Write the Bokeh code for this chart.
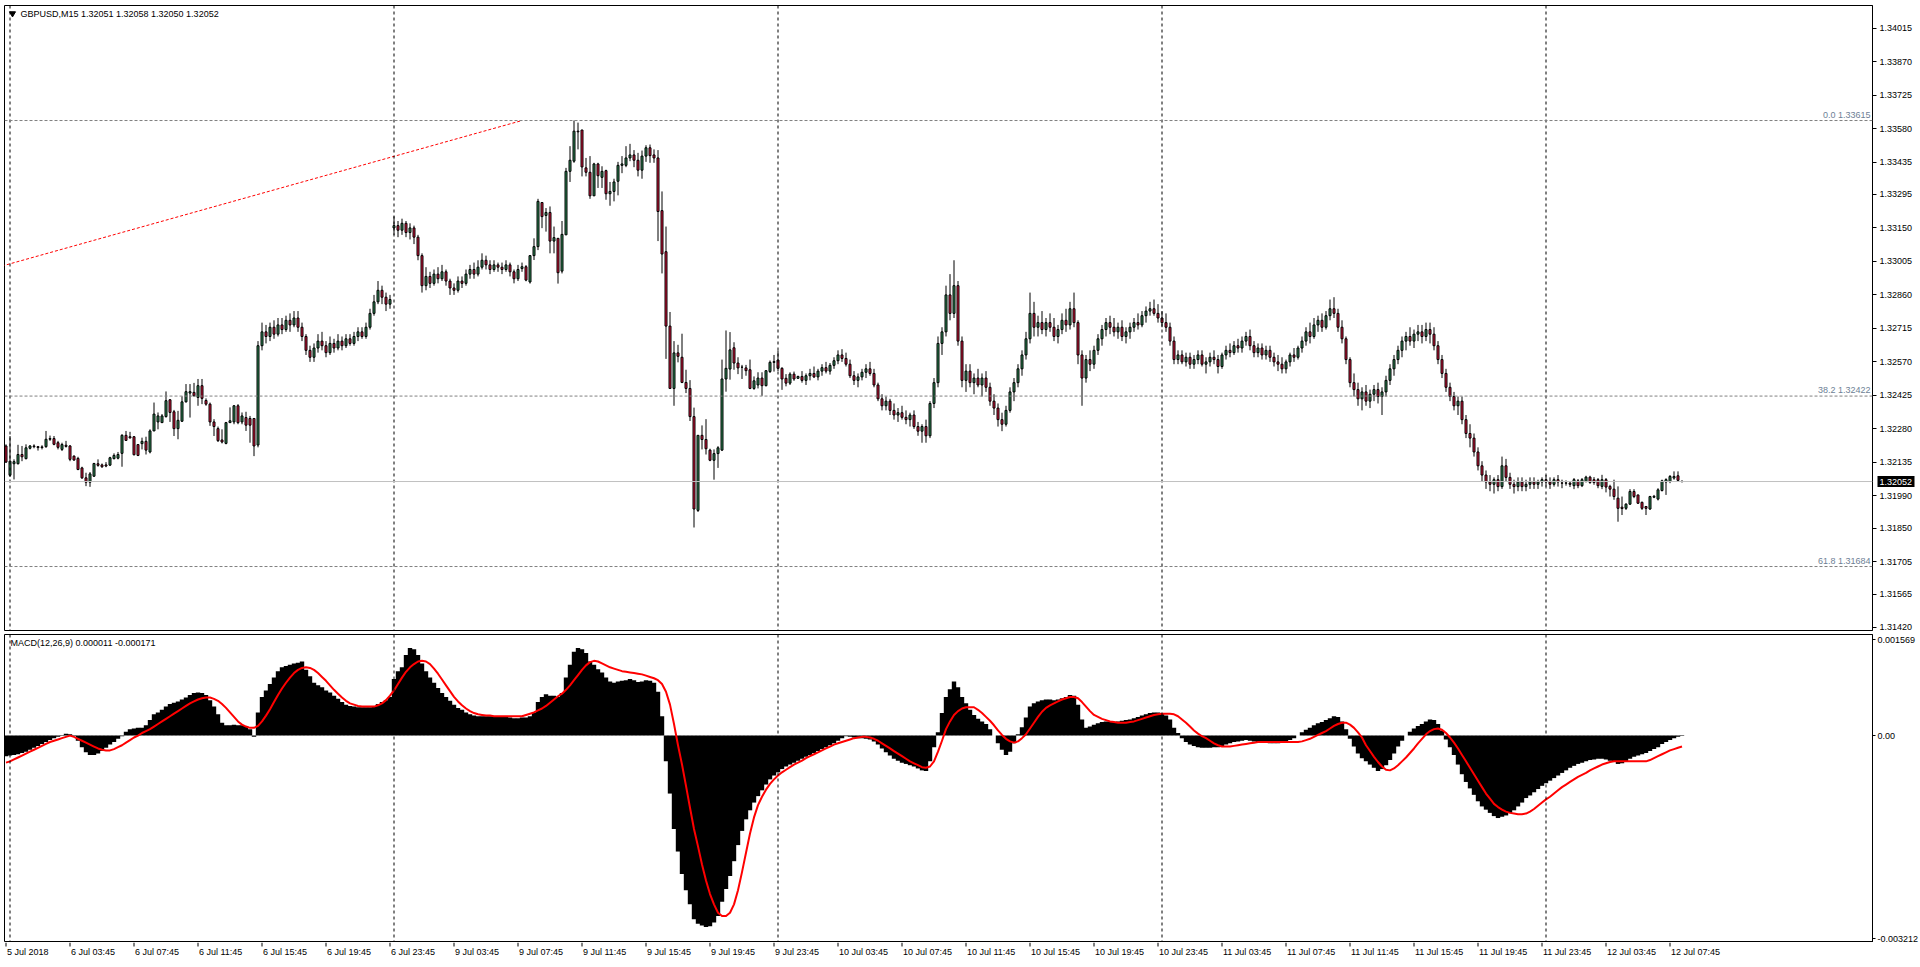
from bokeh.plotting import figure
from bokeh.models import Range1d, FixedTicker, PrintfTickFormatter, Span, Label, ColumnDataSource
from bokeh.layouts import column
from bokeh.embed import file_html
from bokeh.resources import INLINE
from bokeh.core.properties import value

# ---------------- data (GBPUSD M15, bars from 5 Jul 23:45 to 12 Jul 08:30) ----------------
opens = [
    1.32206, 1.32079, 1.32129, 1.32129, 1.32169, 1.32151, 1.32196, 1.32206, 1.32203, 1.32199,
    1.32203, 1.32235, 1.32238, 1.32220, 1.32191, 1.32209, 1.32206, 1.32162, 1.32152, 1.32111,
    1.32068, 1.32049, 1.32075, 1.32129, 1.32124, 1.32124, 1.32123, 1.32151, 1.32153, 1.32174,
    1.32252, 1.32246, 1.32246, 1.32212, 1.32216, 1.32226, 1.32180, 1.32271, 1.32310, 1.32307,
    1.32333, 1.32406, 1.32354, 1.32281, 1.32313, 1.32397, 1.32435, 1.32438, 1.32416, 1.32467,
    1.32403, 1.32387, 1.32310, 1.32281, 1.32232, 1.32217, 1.32307, 1.32310, 1.32380, 1.32310,
    1.32329, 1.32325, 1.32325, 1.32210, 1.32640, 1.32700, 1.32680, 1.32720, 1.32690, 1.32730,
    1.32710, 1.32750, 1.32730, 1.32760, 1.32720, 1.32680, 1.32620, 1.32590, 1.32630, 1.32660,
    1.32640, 1.32610, 1.32650, 1.32630, 1.32660, 1.32640, 1.32670, 1.32650, 1.32680, 1.32700,
    1.32680, 1.32720, 1.32780, 1.32830, 1.32880, 1.32850, 1.32820, 1.33150, 1.33160, 1.33140,
    1.33170, 1.33130, 1.33150, 1.33110, 1.33030, 1.32900, 1.32940, 1.32910, 1.32950, 1.32930,
    1.32960, 1.32920, 1.32890, 1.32880, 1.32920, 1.32910, 1.32950, 1.32970, 1.32950, 1.32980,
    1.33010, 1.32990, 1.32970, 1.32990, 1.32980, 1.32970, 1.32990, 1.32960, 1.32930, 1.32974,
    1.32982, 1.32916, 1.33030, 1.33069, 1.33260, 1.33204, 1.33217, 1.33093, 1.33105, 1.32963,
    1.33120, 1.33395, 1.33439, 1.33569, 1.33574, 1.33410, 1.33391, 1.33289, 1.33427, 1.33369,
    1.33398, 1.33298, 1.33308, 1.33352, 1.33421, 1.33421, 1.33453, 1.33466, 1.33443, 1.33400,
    1.33461, 1.33497, 1.33466, 1.33453, 1.33225, 1.33047, 1.32725, 1.32455, 1.32609, 1.32590,
    1.32481, 1.32455, 1.32333, 1.31927, 1.32252, 1.32234, 1.32188, 1.32144, 1.32173, 1.32188,
    1.32496, 1.32539, 1.32631, 1.32565, 1.32547, 1.32544, 1.32536, 1.32455, 1.32470, 1.32500,
    1.32467, 1.32528, 1.32568, 1.32578, 1.32542, 1.32499, 1.32478, 1.32517, 1.32499, 1.32507,
    1.32490, 1.32510, 1.32520, 1.32505, 1.32530, 1.32545, 1.32530, 1.32555, 1.32575, 1.32600,
    1.32585, 1.32560, 1.32510, 1.32490, 1.32505, 1.32525, 1.32540, 1.32520, 1.32470, 1.32410,
    1.32380, 1.32400, 1.32360, 1.32340, 1.32350, 1.32330, 1.32320, 1.32340, 1.32290, 1.32270,
    1.32290, 1.32250, 1.32390, 1.32480, 1.32650, 1.32700, 1.32860, 1.32780, 1.32900, 1.32660,
    1.32490, 1.32530, 1.32480, 1.32500, 1.32470, 1.32500, 1.32460, 1.32400, 1.32370, 1.32320,
    1.32300, 1.32360, 1.32440, 1.32480, 1.32540, 1.32600, 1.32670, 1.32780, 1.32720, 1.32740,
    1.32710, 1.32740, 1.32720, 1.32680, 1.32710, 1.32750, 1.32730, 1.32800, 1.32740, 1.32600,
    1.32500, 1.32580, 1.32560, 1.32620, 1.32670, 1.32710, 1.32740, 1.32720, 1.32700, 1.32720,
    1.32680, 1.32700, 1.32720, 1.32740, 1.32730, 1.32770, 1.32790, 1.32800, 1.32780, 1.32760,
    1.32740, 1.32720, 1.32660, 1.32580, 1.32600, 1.32570, 1.32590, 1.32560, 1.32580, 1.32600,
    1.32560, 1.32570, 1.32590, 1.32580, 1.32550, 1.32600, 1.32620, 1.32610, 1.32640, 1.32630,
    1.32660, 1.32680, 1.32640, 1.32610, 1.32630, 1.32600, 1.32620, 1.32590, 1.32570, 1.32560,
    1.32540, 1.32570, 1.32600, 1.32590, 1.32630, 1.32660, 1.32700, 1.32680, 1.32730, 1.32750,
    1.32720, 1.32770, 1.32800, 1.32780, 1.32720, 1.32670, 1.32580, 1.32480, 1.32450, 1.32410,
    1.32440, 1.32400, 1.32430, 1.32450, 1.32420, 1.32440, 1.32490, 1.32540, 1.32580, 1.32620,
    1.32660, 1.32680, 1.32660, 1.32690, 1.32700, 1.32680, 1.32710, 1.32690, 1.32640, 1.32580,
    1.32520, 1.32460, 1.32420, 1.32380, 1.32400, 1.32320, 1.32260, 1.32240, 1.32180, 1.32120,
    1.32080, 1.32050, 1.32040, 1.32060, 1.32030, 1.32120, 1.32070, 1.32040, 1.32030, 1.32050,
    1.32030, 1.32040, 1.32050, 1.32040, 1.32050, 1.32060, 1.32050, 1.32040, 1.32060, 1.32046,
    1.32045, 1.32045, 1.32034, 1.32055, 1.32034, 1.32052, 1.32071, 1.32060, 1.32060, 1.32031,
    1.32060, 1.32031, 1.32019, 1.31980, 1.31941, 1.31936, 1.31954, 1.32009, 1.31994, 1.31962,
    1.31944, 1.31933, 1.31984, 1.31976, 1.32013, 1.32050, 1.32052, 1.32067, 1.32077, 1.32051,
]
highs = [
    1.32213, 1.32249, 1.32148, 1.32211, 1.32206, 1.32213, 1.32210, 1.32213, 1.32206, 1.32209,
    1.32271, 1.32251, 1.32249, 1.32228, 1.32220, 1.32228, 1.32210, 1.32165, 1.32159, 1.32116,
    1.32090, 1.32093, 1.32133, 1.32148, 1.32130, 1.32136, 1.32159, 1.32174, 1.32180, 1.32257,
    1.32271, 1.32267, 1.32249, 1.32214, 1.32242, 1.32246, 1.32278, 1.32394, 1.32351, 1.32344,
    1.32442, 1.32409, 1.32362, 1.32358, 1.32421, 1.32474, 1.32474, 1.32479, 1.32496, 1.32496,
    1.32412, 1.32394, 1.32322, 1.32290, 1.32278, 1.32310, 1.32373, 1.32383, 1.32387, 1.32351,
    1.32354, 1.32336, 1.32325, 1.32660, 1.32740, 1.32730, 1.32740, 1.32750, 1.32760, 1.32760,
    1.32770, 1.32780, 1.32790, 1.32790, 1.32740, 1.32690, 1.32640, 1.32650, 1.32690, 1.32700,
    1.32660, 1.32680, 1.32670, 1.32690, 1.32680, 1.32690, 1.32690, 1.32700, 1.32720, 1.32720,
    1.32740, 1.32800, 1.32860, 1.32920, 1.32900, 1.32870, 1.32860, 1.33200, 1.33180, 1.33190,
    1.33180, 1.33170, 1.33160, 1.33120, 1.33040, 1.32980, 1.32960, 1.32970, 1.32980, 1.32990,
    1.32970, 1.32930, 1.32910, 1.32940, 1.32940, 1.32970, 1.32990, 1.33000, 1.33010, 1.33040,
    1.33030, 1.33010, 1.33010, 1.33000, 1.33000, 1.33010, 1.33000, 1.32970, 1.32990, 1.33000,
    1.32989, 1.33032, 1.33105, 1.33276, 1.33260, 1.33236, 1.33243, 1.33156, 1.33105, 1.33180,
    1.33410, 1.33504, 1.33615, 1.33606, 1.33574, 1.33453, 1.33461, 1.33432, 1.33432, 1.33417,
    1.33402, 1.33349, 1.33363, 1.33436, 1.33461, 1.33504, 1.33514, 1.33487, 1.33475, 1.33485,
    1.33508, 1.33511, 1.33490, 1.33487, 1.33308, 1.33156, 1.32786, 1.32660, 1.32644, 1.32692,
    1.32536, 1.32491, 1.32372, 1.32252, 1.32295, 1.32322, 1.32194, 1.32191, 1.32205, 1.32580,
    1.32706, 1.32699, 1.32655, 1.32590, 1.32557, 1.32557, 1.32580, 1.32507, 1.32525, 1.32525,
    1.32532, 1.32576, 1.32600, 1.32619, 1.32547, 1.32517, 1.32525, 1.32528, 1.32510, 1.32530,
    1.32520, 1.32540, 1.32550, 1.32540, 1.32560, 1.32570, 1.32565, 1.32590, 1.32620, 1.32625,
    1.32610, 1.32580, 1.32530, 1.32520, 1.32540, 1.32560, 1.32570, 1.32540, 1.32480, 1.32430,
    1.32420, 1.32410, 1.32390, 1.32370, 1.32380, 1.32360, 1.32350, 1.32360, 1.32310, 1.32300,
    1.32320, 1.32400, 1.32500, 1.32680, 1.32720, 1.32900, 1.32950, 1.33010, 1.32920, 1.32680,
    1.32560, 1.32560, 1.32520, 1.32540, 1.32520, 1.32530, 1.32480, 1.32430, 1.32390, 1.32350,
    1.32380, 1.32460, 1.32500, 1.32560, 1.32620, 1.32700, 1.32870, 1.32830, 1.32770, 1.32790,
    1.32760, 1.32780, 1.32760, 1.32730, 1.32780, 1.32800, 1.32830, 1.32870, 1.32750, 1.32620,
    1.32600, 1.32620, 1.32640, 1.32690, 1.32730, 1.32760, 1.32770, 1.32760, 1.32740, 1.32750,
    1.32720, 1.32740, 1.32760, 1.32780, 1.32790, 1.32810, 1.32830, 1.32840, 1.32820, 1.32790,
    1.32780, 1.32740, 1.32680, 1.32620, 1.32620, 1.32610, 1.32610, 1.32600, 1.32620, 1.32620,
    1.32590, 1.32610, 1.32620, 1.32600, 1.32610, 1.32640, 1.32650, 1.32660, 1.32670, 1.32680,
    1.32700, 1.32710, 1.32660, 1.32650, 1.32650, 1.32640, 1.32640, 1.32610, 1.32600, 1.32590,
    1.32580, 1.32610, 1.32630, 1.32640, 1.32680, 1.32720, 1.32740, 1.32760, 1.32770, 1.32780,
    1.32790, 1.32840, 1.32850, 1.32800, 1.32750, 1.32680, 1.32590, 1.32520, 1.32480, 1.32460,
    1.32470, 1.32450, 1.32470, 1.32480, 1.32460, 1.32510, 1.32560, 1.32600, 1.32640, 1.32680,
    1.32700, 1.32720, 1.32710, 1.32730, 1.32730, 1.32740, 1.32740, 1.32720, 1.32660, 1.32600,
    1.32540, 1.32480, 1.32440, 1.32420, 1.32420, 1.32340, 1.32300, 1.32260, 1.32200, 1.32140,
    1.32100, 1.32080, 1.32070, 1.32080, 1.32160, 1.32150, 1.32090, 1.32060, 1.32070, 1.32070,
    1.32060, 1.32070, 1.32070, 1.32060, 1.32070, 1.32080, 1.32070, 1.32070, 1.32080, 1.32060,
    1.32057, 1.32052, 1.32067, 1.32063, 1.32067, 1.32077, 1.32077, 1.32071, 1.32067, 1.32081,
    1.32067, 1.32038, 1.32060, 1.32031, 1.31987, 1.31958, 1.32019, 1.32019, 1.31994, 1.31965,
    1.31946, 1.31990, 1.31994, 1.32023, 1.32060, 1.32066, 1.32080, 1.32096, 1.32096, 1.32058,
]
lows = [
    1.32133, 1.32072, 1.32061, 1.32126, 1.32140, 1.32148, 1.32191, 1.32196, 1.32186, 1.32191,
    1.32198, 1.32228, 1.32209, 1.32191, 1.32184, 1.32199, 1.32140, 1.32142, 1.32101, 1.32063,
    1.32032, 1.32029, 1.32072, 1.32116, 1.32111, 1.32114, 1.32119, 1.32148, 1.32148, 1.32116,
    1.32228, 1.32238, 1.32165, 1.32162, 1.32191, 1.32169, 1.32174, 1.32271, 1.32278, 1.32307,
    1.32329, 1.32310, 1.32249, 1.32235, 1.32310, 1.32394, 1.32329, 1.32421, 1.32380, 1.32387,
    1.32380, 1.32293, 1.32249, 1.32223, 1.32217, 1.32213, 1.32307, 1.32300, 1.32300, 1.32300,
    1.32271, 1.32220, 1.32162, 1.32200, 1.32620, 1.32650, 1.32660, 1.32670, 1.32680, 1.32690,
    1.32700, 1.32700, 1.32720, 1.32700, 1.32660, 1.32600, 1.32570, 1.32570, 1.32610, 1.32620,
    1.32590, 1.32600, 1.32610, 1.32620, 1.32620, 1.32630, 1.32640, 1.32640, 1.32660, 1.32670,
    1.32670, 1.32710, 1.32770, 1.32820, 1.32820, 1.32790, 1.32800, 1.33120, 1.33110, 1.33120,
    1.33110, 1.33100, 1.33080, 1.33010, 1.32870, 1.32880, 1.32890, 1.32900, 1.32910, 1.32920,
    1.32900, 1.32860, 1.32860, 1.32870, 1.32890, 1.32900, 1.32930, 1.32930, 1.32940, 1.32970,
    1.32970, 1.32950, 1.32960, 1.32960, 1.32950, 1.32960, 1.32940, 1.32910, 1.32920, 1.32960,
    1.32919, 1.32909, 1.33011, 1.33054, 1.33149, 1.33134, 1.33040, 1.33040, 1.32909, 1.32953,
    1.33120, 1.33349, 1.33432, 1.33490, 1.33373, 1.33373, 1.33276, 1.33289, 1.33323, 1.33323,
    1.33272, 1.33246, 1.33265, 1.33291, 1.33387, 1.33413, 1.33439, 1.33413, 1.33373, 1.33363,
    1.33436, 1.33432, 1.33432, 1.33093, 1.32953, 1.32583, 1.32455, 1.32380, 1.32568, 1.32478,
    1.32435, 1.32314, 1.31853, 1.31920, 1.32191, 1.32169, 1.32140, 1.32060, 1.32111, 1.32184,
    1.32441, 1.32493, 1.32536, 1.32517, 1.32496, 1.32510, 1.32452, 1.32449, 1.32455, 1.32423,
    1.32464, 1.32522, 1.32528, 1.32530, 1.32449, 1.32464, 1.32470, 1.32488, 1.32496, 1.32480,
    1.32470, 1.32490, 1.32500, 1.32490, 1.32510, 1.32520, 1.32515, 1.32540, 1.32560, 1.32570,
    1.32550, 1.32500, 1.32470, 1.32460, 1.32490, 1.32500, 1.32510, 1.32460, 1.32400, 1.32360,
    1.32360, 1.32340, 1.32320, 1.32310, 1.32320, 1.32300, 1.32290, 1.32280, 1.32250, 1.32220,
    1.32220, 1.32240, 1.32370, 1.32460, 1.32600, 1.32680, 1.32750, 1.32760, 1.32640, 1.32460,
    1.32440, 1.32460, 1.32430, 1.32460, 1.32420, 1.32440, 1.32380, 1.32340, 1.32290, 1.32270,
    1.32290, 1.32350, 1.32400, 1.32460, 1.32510, 1.32580, 1.32650, 1.32680, 1.32680, 1.32690,
    1.32680, 1.32700, 1.32660, 1.32650, 1.32690, 1.32700, 1.32710, 1.32720, 1.32560, 1.32380,
    1.32480, 1.32530, 1.32540, 1.32600, 1.32640, 1.32680, 1.32690, 1.32680, 1.32670, 1.32660,
    1.32650, 1.32670, 1.32700, 1.32710, 1.32720, 1.32740, 1.32770, 1.32770, 1.32740, 1.32720,
    1.32700, 1.32640, 1.32560, 1.32560, 1.32560, 1.32550, 1.32540, 1.32540, 1.32560, 1.32550,
    1.32520, 1.32550, 1.32560, 1.32520, 1.32540, 1.32580, 1.32590, 1.32600, 1.32610, 1.32610,
    1.32640, 1.32620, 1.32590, 1.32590, 1.32580, 1.32580, 1.32570, 1.32550, 1.32530, 1.32520,
    1.32520, 1.32550, 1.32570, 1.32580, 1.32610, 1.32640, 1.32650, 1.32670, 1.32700, 1.32700,
    1.32710, 1.32750, 1.32760, 1.32700, 1.32650, 1.32560, 1.32460, 1.32420, 1.32380, 1.32360,
    1.32380, 1.32370, 1.32400, 1.32390, 1.32340, 1.32420, 1.32470, 1.32510, 1.32560, 1.32590,
    1.32620, 1.32640, 1.32630, 1.32660, 1.32650, 1.32660, 1.32650, 1.32620, 1.32560, 1.32500,
    1.32440, 1.32400, 1.32360, 1.32340, 1.32300, 1.32240, 1.32200, 1.32160, 1.32100, 1.32050,
    1.32020, 1.32010, 1.32000, 1.32010, 1.32020, 1.32050, 1.32020, 1.32000, 1.32010, 1.32010,
    1.32010, 1.32020, 1.32020, 1.32020, 1.32030, 1.32030, 1.32020, 1.32030, 1.32030, 1.32023,
    1.32034, 1.32028, 1.32019, 1.32023, 1.32028, 1.32048, 1.32042, 1.32038, 1.32023, 1.32019,
    1.32005, 1.31987, 1.31973, 1.31878, 1.31907, 1.31929, 1.31951, 1.31980, 1.31955, 1.31929,
    1.31907, 1.31929, 1.31980, 1.31970, 1.32009, 1.31994, 1.32045, 1.32060, 1.32052, 1.32050,
]
closes = [
    1.32136, 1.32140, 1.32138, 1.32169, 1.32159, 1.32198, 1.32206, 1.32203, 1.32199, 1.32202,
    1.32235, 1.32238, 1.32213, 1.32200, 1.32212, 1.32204, 1.32148, 1.32145, 1.32104, 1.32068,
    1.32049, 1.32085, 1.32130, 1.32122, 1.32116, 1.32119, 1.32155, 1.32165, 1.32169, 1.32252,
    1.32230, 1.32241, 1.32168, 1.32165, 1.32226, 1.32188, 1.32271, 1.32344, 1.32336, 1.32336,
    1.32402, 1.32351, 1.32281, 1.32317, 1.32397, 1.32441, 1.32441, 1.32423, 1.32467, 1.32412,
    1.32387, 1.32310, 1.32290, 1.32229, 1.32223, 1.32307, 1.32315, 1.32380, 1.32307, 1.32336,
    1.32296, 1.32296, 1.32206, 1.32640, 1.32700, 1.32680, 1.32720, 1.32690, 1.32730, 1.32710,
    1.32750, 1.32730, 1.32760, 1.32720, 1.32680, 1.32620, 1.32590, 1.32630, 1.32660, 1.32640,
    1.32610, 1.32650, 1.32630, 1.32660, 1.32640, 1.32670, 1.32650, 1.32680, 1.32700, 1.32680,
    1.32720, 1.32780, 1.32830, 1.32880, 1.32850, 1.32820, 1.32840, 1.33160, 1.33140, 1.33170,
    1.33130, 1.33150, 1.33110, 1.33030, 1.32900, 1.32940, 1.32910, 1.32950, 1.32930, 1.32960,
    1.32920, 1.32890, 1.32880, 1.32920, 1.32910, 1.32950, 1.32970, 1.32950, 1.32980, 1.33010,
    1.32990, 1.32970, 1.32990, 1.32980, 1.32970, 1.32990, 1.32960, 1.32930, 1.32970, 1.32982,
    1.32924, 1.33030, 1.33069, 1.33265, 1.33199, 1.33217, 1.33093, 1.33108, 1.32956, 1.33122,
    1.33395, 1.33443, 1.33569, 1.33566, 1.33414, 1.33391, 1.33289, 1.33427, 1.33376, 1.33395,
    1.33298, 1.33308, 1.33349, 1.33421, 1.33427, 1.33453, 1.33466, 1.33443, 1.33400, 1.33461,
    1.33497, 1.33463, 1.33453, 1.33221, 1.33037, 1.32725, 1.32455, 1.32609, 1.32594, 1.32481,
    1.32455, 1.32333, 1.31933, 1.32252, 1.32234, 1.32194, 1.32144, 1.32173, 1.32198, 1.32496,
    1.32542, 1.32622, 1.32565, 1.32544, 1.32547, 1.32532, 1.32455, 1.32488, 1.32500, 1.32467,
    1.32532, 1.32568, 1.32571, 1.32542, 1.32496, 1.32478, 1.32517, 1.32496, 1.32507, 1.32490,
    1.32510, 1.32520, 1.32505, 1.32530, 1.32545, 1.32530, 1.32555, 1.32575, 1.32600, 1.32585,
    1.32560, 1.32510, 1.32490, 1.32505, 1.32525, 1.32540, 1.32520, 1.32470, 1.32410, 1.32380,
    1.32400, 1.32360, 1.32340, 1.32350, 1.32330, 1.32320, 1.32340, 1.32290, 1.32270, 1.32290,
    1.32250, 1.32390, 1.32480, 1.32650, 1.32700, 1.32860, 1.32780, 1.32900, 1.32660, 1.32490,
    1.32530, 1.32480, 1.32500, 1.32470, 1.32500, 1.32460, 1.32400, 1.32370, 1.32320, 1.32300,
    1.32360, 1.32440, 1.32480, 1.32540, 1.32600, 1.32670, 1.32780, 1.32720, 1.32740, 1.32710,
    1.32740, 1.32720, 1.32680, 1.32710, 1.32750, 1.32730, 1.32800, 1.32740, 1.32600, 1.32500,
    1.32580, 1.32560, 1.32620, 1.32670, 1.32710, 1.32740, 1.32720, 1.32700, 1.32720, 1.32680,
    1.32700, 1.32720, 1.32740, 1.32730, 1.32770, 1.32790, 1.32800, 1.32780, 1.32760, 1.32740,
    1.32720, 1.32660, 1.32580, 1.32600, 1.32570, 1.32590, 1.32560, 1.32580, 1.32600, 1.32560,
    1.32570, 1.32590, 1.32580, 1.32550, 1.32600, 1.32620, 1.32610, 1.32640, 1.32630, 1.32660,
    1.32680, 1.32640, 1.32610, 1.32630, 1.32600, 1.32620, 1.32590, 1.32570, 1.32560, 1.32540,
    1.32570, 1.32600, 1.32590, 1.32630, 1.32660, 1.32700, 1.32680, 1.32730, 1.32750, 1.32720,
    1.32770, 1.32800, 1.32780, 1.32720, 1.32670, 1.32580, 1.32480, 1.32450, 1.32410, 1.32440,
    1.32400, 1.32430, 1.32450, 1.32420, 1.32440, 1.32490, 1.32540, 1.32580, 1.32620, 1.32660,
    1.32680, 1.32660, 1.32690, 1.32700, 1.32680, 1.32710, 1.32690, 1.32640, 1.32580, 1.32520,
    1.32460, 1.32420, 1.32380, 1.32400, 1.32320, 1.32260, 1.32240, 1.32180, 1.32120, 1.32080,
    1.32050, 1.32040, 1.32060, 1.32030, 1.32120, 1.32070, 1.32040, 1.32030, 1.32050, 1.32030,
    1.32040, 1.32050, 1.32040, 1.32050, 1.32060, 1.32050, 1.32040, 1.32060, 1.32050, 1.32045,
    1.32046, 1.32040, 1.32060, 1.32034, 1.32060, 1.32071, 1.32048, 1.32048, 1.32034, 1.32060,
    1.32028, 1.32019, 1.31987, 1.31936, 1.31935, 1.31954, 1.32009, 1.31987, 1.31958, 1.31936,
    1.31936, 1.31987, 1.31988, 1.32016, 1.32055, 1.32060, 1.32074, 1.32074, 1.32057, 1.32052,
]

# MACD(12,26,9): main line (histogram) and signal line
macd_main = [
    -0.00032, -0.00031, -0.00030, -0.00029, -0.00027, -0.00025, -0.00022, -0.00019, -0.00016, -0.00013,
    -0.00010, -0.00007, -0.00004, -0.00002, 0.00001, 0.00003, 0.00002, 0.00001, -0.00008, -0.00018,
    -0.00026, -0.00030, -0.00030, -0.00028, -0.00024, -0.00019, -0.00014, -0.00010, -0.00005, -0.00001,
    0.00006, 0.00010, 0.00011, 0.00012, 0.00012, 0.00016, 0.00024, 0.00033, 0.00036, 0.00040,
    0.00045, 0.00049, 0.00051, 0.00053, 0.00056, 0.00059, 0.00063, 0.00066, 0.00067, 0.00066,
    0.00063, 0.00055, 0.00045, 0.00033, 0.00020, 0.00016, 0.00016, 0.00017, 0.00016, 0.00016,
    0.00015, 0.00010, -0.00002, 0.00036, 0.00060, 0.00070, 0.00080, 0.00090, 0.00100, 0.00106,
    0.00108, 0.00110, 0.00112, 0.00113, 0.00115, 0.00102, 0.00092, 0.00082, 0.00078, 0.00075,
    0.00070, 0.00067, 0.00062, 0.00057, 0.00052, 0.00048, 0.00046, 0.00045, 0.00044, 0.00044,
    0.00044, 0.00044, 0.00046, 0.00049, 0.00052, 0.00055, 0.00060, 0.00088, 0.00100, 0.00106,
    0.00125, 0.00136, 0.00134, 0.00125, 0.00112, 0.00100, 0.00090, 0.00082, 0.00074, 0.00066,
    0.00060, 0.00054, 0.00048, 0.00043, 0.00040, 0.00036, 0.00033, 0.00031, 0.00030, 0.00030,
    0.00030, 0.00030, 0.00030, 0.00029, 0.00029, 0.00029, 0.00028, 0.00027, 0.00027, 0.00028,
    0.00028, 0.00030, 0.00036, 0.00052, 0.00060, 0.00064, 0.00062, 0.00062, 0.00060, 0.00066,
    0.00090, 0.00110, 0.00130, 0.00136, 0.00134, 0.00128, 0.00115, 0.00110, 0.00103, 0.00098,
    0.00090, 0.00084, 0.00082, 0.00084, 0.00085, 0.00086, 0.00088, 0.00086, 0.00083, 0.00084,
    0.00086, 0.00085, 0.00082, 0.00068, 0.00030, -0.00040, -0.00090, -0.00145, -0.00180, -0.00215,
    -0.00240, -0.00262, -0.00285, -0.00292, -0.00295, -0.00297, -0.00296, -0.00290, -0.00280, -0.00258,
    -0.00238, -0.00218, -0.00195, -0.00170, -0.00148, -0.00130, -0.00116, -0.00104, -0.00094, -0.00085,
    -0.00076, -0.00068, -0.00062, -0.00057, -0.00052, -0.00048, -0.00045, -0.00042, -0.00039, -0.00036,
    -0.00033, -0.00030, -0.00027, -0.00024, -0.00021, -0.00018, -0.00015, -0.00012, -0.00008, -0.00004,
    -0.00001, -0.00002, -0.00003, -0.00004, -0.00004, -0.00005, -0.00006, -0.00009, -0.00014, -0.00020,
    -0.00026, -0.00031, -0.00036, -0.00039, -0.00042, -0.00044, -0.00046, -0.00048, -0.00051, -0.00054,
    -0.00055, -0.00040, -0.00018, 0.00005, 0.00035, 0.00060, 0.00072, 0.00084, 0.00075, 0.00060,
    0.00050, 0.00040, 0.00032, 0.00026, 0.00022, 0.00018, 0.00010, 0.00000, -0.00012, -0.00022,
    -0.00030, -0.00025, -0.00012, 0.00002, 0.00013, 0.00028, 0.00045, 0.00050, 0.00053, 0.00055,
    0.00056, 0.00056, 0.00055, 0.00056, 0.00058, 0.00060, 0.00063, 0.00062, 0.00048, 0.00025,
    0.00012, 0.00014, 0.00017, 0.00019, 0.00021, 0.00022, 0.00022, 0.00021, 0.00022, 0.00023,
    0.00024, 0.00025, 0.00027, 0.00029, 0.00031, 0.00033, 0.00035, 0.00036, 0.00036, 0.00034,
    0.00031, 0.00025, 0.00012, 0.00004, -0.00004, -0.00010, -0.00014, -0.00016, -0.00018, -0.00019,
    -0.00019, -0.00019, -0.00018, -0.00018, -0.00016, -0.00014, -0.00012, -0.00010, -0.00009, -0.00008,
    -0.00007, -0.00008, -0.00009, -0.00010, -0.00011, -0.00011, -0.00012, -0.00012, -0.00012, -0.00011,
    -0.00009, -0.00007, -0.00004, 0.00000, 0.00005, 0.00009, 0.00012, 0.00016, 0.00019, 0.00021,
    0.00024, 0.00027, 0.00030, 0.00029, 0.00022, 0.00010, -0.00005, -0.00017, -0.00028, -0.00035,
    -0.00040, -0.00045, -0.00050, -0.00055, -0.00052, -0.00046, -0.00038, -0.00028, -0.00017, -0.00008,
    0.00000, 0.00006, 0.00011, 0.00015, 0.00018, 0.00022, 0.00025, 0.00024, 0.00018, 0.00008,
    -0.00006, -0.00018, -0.00030, -0.00045, -0.00060, -0.00072, -0.00082, -0.00092, -0.00102, -0.00110,
    -0.00115, -0.00120, -0.00125, -0.00128, -0.00126, -0.00124, -0.00120, -0.00116, -0.00110, -0.00104,
    -0.00097, -0.00093, -0.00088, -0.00083, -0.00078, -0.00074, -0.00070, -0.00066, -0.00062, -0.00058,
    -0.00054, -0.00050, -0.00047, -0.00044, -0.00042, -0.00040, -0.00038, -0.00037, -0.00036, -0.00036,
    -0.00037, -0.00039, -0.00041, -0.00044, -0.00043, -0.00040, -0.00036, -0.00033, -0.00031, -0.00029,
    -0.00027, -0.00024, -0.00021, -0.00018, -0.00013, -0.00010, -0.00007, -0.00004, -0.00002, 0.00001,
]
macd_signal = [
    -0.00042, -0.00040, -0.00037, -0.00034, -0.00031, -0.00028, -0.00025, -0.00022, -0.00019, -0.00016,
    -0.00013, -0.00010, -0.00008, -0.00006, -0.00004, -0.00002, 0.00000, -0.00002, -0.00005, -0.00008,
    -0.00011, -0.00014, -0.00017, -0.00020, -0.00022, -0.00023, -0.00023, -0.00021, -0.00018, -0.00015,
    -0.00011, -0.00007, -0.00003, 0.00000, 0.00004, 0.00007, 0.00010, 0.00014, 0.00018, 0.00022,
    0.00026, 0.00030, 0.00034, 0.00038, 0.00042, 0.00046, 0.00050, 0.00053, 0.00056, 0.00058,
    0.00059, 0.00059, 0.00057, 0.00054, 0.00049, 0.00043, 0.00036, 0.00029, 0.00022, 0.00017,
    0.00014, 0.00012, 0.00012, 0.00015, 0.00022, 0.00031, 0.00041, 0.00052, 0.00063, 0.00073,
    0.00082, 0.00090, 0.00097, 0.00102, 0.00105, 0.00106, 0.00105, 0.00102, 0.00097, 0.00091,
    0.00085, 0.00078, 0.00071, 0.00065, 0.00059, 0.00054, 0.00050, 0.00048, 0.00046, 0.00045,
    0.00045, 0.00045, 0.00045, 0.00047, 0.00050, 0.00055, 0.00062, 0.00070, 0.00080, 0.00090,
    0.00099, 0.00106, 0.00111, 0.00115, 0.00116, 0.00115, 0.00111, 0.00104, 0.00096, 0.00087,
    0.00078, 0.00069, 0.00060, 0.00053, 0.00047, 0.00042, 0.00038, 0.00035, 0.00033, 0.00032,
    0.00031, 0.00031, 0.00030, 0.00030, 0.00030, 0.00030, 0.00030, 0.00030, 0.00030, 0.00030,
    0.00032, 0.00034, 0.00036, 0.00039, 0.00042, 0.00046, 0.00051, 0.00056, 0.00061, 0.00065,
    0.00071, 0.00078, 0.00086, 0.00094, 0.00102, 0.00109, 0.00114, 0.00116, 0.00115, 0.00112,
    0.00109, 0.00106, 0.00104, 0.00102, 0.00100, 0.00099, 0.00098, 0.00097, 0.00096, 0.00095,
    0.00093, 0.00091, 0.00089, 0.00086, 0.00080, 0.00068, 0.00048, 0.00018, -0.00015, -0.00045,
    -0.00078, -0.00112, -0.00145, -0.00172, -0.00200, -0.00225, -0.00246, -0.00262, -0.00275, -0.00280,
    -0.00280, -0.00275, -0.00262, -0.00240, -0.00212, -0.00182, -0.00152, -0.00127, -0.00108, -0.00095,
    -0.00084, -0.00075, -0.00068, -0.00062, -0.00057, -0.00053, -0.00049, -0.00045, -0.00042, -0.00039,
    -0.00035, -0.00032, -0.00029, -0.00026, -0.00023, -0.00020, -0.00017, -0.00014, -0.00012, -0.00010,
    -0.00008, -0.00006, -0.00004, -0.00003, -0.00002, -0.00002, -0.00003, -0.00005, -0.00008, -0.00012,
    -0.00016, -0.00020, -0.00024, -0.00028, -0.00032, -0.00036, -0.00040, -0.00043, -0.00046, -0.00049,
    -0.00050, -0.00048, -0.00040, -0.00025, -0.00008, 0.00010, 0.00022, 0.00032, 0.00038, 0.00042,
    0.00044, 0.00044, 0.00044, 0.00040, 0.00035, 0.00029, 0.00023, 0.00016, 0.00008, 0.00001,
    -0.00005, -0.00009, -0.00011, -0.00009, -0.00004, 0.00002, 0.00011, 0.00020, 0.00029, 0.00037,
    0.00043, 0.00047, 0.00050, 0.00053, 0.00056, 0.00058, 0.00060, 0.00060, 0.00058, 0.00052,
    0.00045, 0.00038, 0.00032, 0.00029, 0.00026, 0.00024, 0.00022, 0.00021, 0.00020, 0.00020,
    0.00020, 0.00021, 0.00022, 0.00024, 0.00026, 0.00028, 0.00030, 0.00032, 0.00033, 0.00034,
    0.00034, 0.00034, 0.00033, 0.00030, 0.00025, 0.00020, 0.00014, 0.00008, 0.00003, -0.00001,
    -0.00004, -0.00008, -0.00012, -0.00015, -0.00017, -0.00017, -0.00017, -0.00016, -0.00015, -0.00014,
    -0.00013, -0.00012, -0.00011, -0.00010, -0.00010, -0.00010, -0.00010, -0.00010, -0.00010, -0.00010,
    -0.00010, -0.00010, -0.00010, -0.00010, -0.00009, -0.00007, -0.00005, -0.00002, 0.00001, 0.00004,
    0.00007, 0.00011, 0.00015, 0.00018, 0.00020, 0.00020, 0.00017, 0.00012, 0.00005, -0.00003,
    -0.00015, -0.00024, -0.00033, -0.00041, -0.00048, -0.00053, -0.00054, -0.00051, -0.00046, -0.00040,
    -0.00034, -0.00027, -0.00020, -0.00012, -0.00005, 0.00002, 0.00007, 0.00010, 0.00011, 0.00009,
    0.00004, -0.00003, -0.00011, -0.00020, -0.00030, -0.00040, -0.00050, -0.00060, -0.00070, -0.00080,
    -0.00090, -0.00098, -0.00106, -0.00111, -0.00115, -0.00118, -0.00120, -0.00121, -0.00122, -0.00122,
    -0.00121, -0.00118, -0.00114, -0.00109, -0.00104, -0.00099, -0.00095, -0.00090, -0.00085, -0.00080,
    -0.00076, -0.00072, -0.00068, -0.00064, -0.00061, -0.00058, -0.00054, -0.00051, -0.00048, -0.00045,
    -0.00043, -0.00041, -0.00040, -0.00040, -0.00040, -0.00040, -0.00040, -0.00040, -0.00040, -0.00040,
    -0.00040, -0.00038, -0.00035, -0.00032, -0.00029, -0.00026, -0.00023, -0.00021, -0.00019, -0.00017,
]

price_ticks = [1.34015, 1.33870, 1.33725, 1.33580, 1.33435, 1.33295, 1.33150, 1.33005, 1.32860,
               1.32715, 1.32570, 1.32425, 1.32280, 1.32135, 1.31990, 1.31850, 1.31705, 1.31565, 1.31420]
macd_range = [-0.003212, 0.001569]
macd_tick_labels = ["0.001569", "0.00", "-0.003212"]
time_ticks = [0, 16, 32, 48, 64, 80, 96, 112, 128, 144, 160, 176, 192, 208, 224, 240, 256,
              272, 288, 304, 320, 336, 352, 368, 384, 400, 416]
time_labels = ["5 Jul 2018", "6 Jul 03:45", "6 Jul 07:45", "6 Jul 11:45", "6 Jul 15:45",
               "6 Jul 19:45", "6 Jul 23:45", "9 Jul 03:45", "9 Jul 07:45", "9 Jul 11:45",
               "9 Jul 15:45", "9 Jul 19:45", "9 Jul 23:45", "10 Jul 03:45", "10 Jul 07:45",
               "10 Jul 11:45", "10 Jul 15:45", "10 Jul 19:45", "10 Jul 23:45", "11 Jul 03:45",
               "11 Jul 07:45", "11 Jul 11:45", "11 Jul 15:45", "11 Jul 19:45", "11 Jul 23:45",
               "12 Jul 03:45", "12 Jul 07:45"]
day_starts = [1, 97, 193, 289, 385]
fib_levels = [1.33615, 1.32422, 1.31684]
fib_names = ["0.0", "38.2", "61.8"]
trend_x = [-1, 129]
trend_y = [1.32985, 1.33615]
last_price = 1.32052
header_text = "GBPUSD,M15  1.32051 1.32058 1.32050 1.32052"
macd_text = "MACD(12,26,9) 0.000011 -0.000171"

n = len(closes)
assert len(opens) == n and len(highs) == n and len(lows) == n, (len(opens), len(highs), len(lows), n)
assert len(macd_main) == n and len(macd_signal) == n, (len(macd_main), len(macd_signal))

FONT = "Liberation Sans"
BULL = "#2E8B57"
BEAR = "#DC143C"

bars = list(range(n))
src = ColumnDataSource(dict(
    x=bars, high=highs, low=lows,
    top=[max(o, c) for o, c in zip(opens, closes)],
    bottom=[min(o, c) for o, c in zip(opens, closes)],
    color=[BULL if c >= o else BEAR for o, c in zip(opens, closes)],
))

FW = 1868                      # frame width in px; 4 px per bar
PX = 4.0                       # px per bar
x_range = Range1d(-0.375, -0.375 + FW / PX)
y_range = Range1d(1.31407, 1.34113)
FH = 625
price_per_px = (y_range.end - y_range.start) / FH

# ---------------- price panel ----------------
p1 = figure(frame_width=FW, frame_height=FH, x_range=x_range, y_range=y_range,
            x_axis_location=None, y_axis_location="right", toolbar_location=None,
            output_backend="svg", min_border_left=4, min_border_top=5, min_border_bottom=2,
            min_border_right=0, background_fill_color="white", border_fill_color="white")
p1.outline_line_color = "black"
p1.outline_line_width = 1
p1.grid.visible = False

ax = p1.yaxis[0]
ax.ticker = FixedTicker(ticks=price_ticks)
ax.formatter = PrintfTickFormatter(format="%.5f")
ax.major_tick_out = 4
ax.major_tick_in = 0
ax.minor_tick_line_color = None
ax.axis_line_color = "black"
ax.major_label_standoff = 3
ax.major_label_text_font = FONT
ax.major_label_text_font_size = "9px"
ax.major_label_text_color = "black"

for d in day_starts:
    p1.add_layout(Span(location=d, dimension="height", line_color="black", line_width=1, line_dash="3 3"))
for lvl in fib_levels:
    p1.add_layout(Span(location=lvl, dimension="width", line_color="#808080", line_width=1, line_dash="3 2"))
p1.add_layout(Span(location=last_price, dimension="width", line_color="#C0C0C0", line_width=1))

p1.line(trend_x, trend_y, line_color="red", line_width=1, line_dash="3 2")

p1.segment(x0="x", y0="low", x1="x", y1="high", source=src, line_color="black", line_width=1)
p1.vbar(x="x", width=0.5, top="top", bottom="bottom", source=src,
        fill_color="color", line_color="black", line_width=1)

for lvl, name in zip(fib_levels, fib_names):
    p1.add_layout(Label(x=x_range.end, y=lvl, x_offset=-2, y_offset=1, text=f"{name} {lvl:.5f}",
                        text_align="right", text_baseline="bottom", text_font=FONT,
                        text_font_size="9px", text_color="#6E7F96"))

# small chart-menu triangle and the symbol header
p1.scatter(x=[x_range.start + 8 / PX], y=[y_range.end - 8 * price_per_px], marker="inverted_triangle",
           size=6, fill_color="black", line_color="black")
p1.add_layout(Label(x=x_range.start, y=y_range.end, x_offset=16, y_offset=-8, text=header_text,
                    text_align="left", text_baseline="middle", text_font=FONT,
                    text_font_size="9px", text_color="black"))

# current-price box on the price scale (drawn at overlay level so it may sit beside the frame)
box_w_px = 37
p1.rect(x=[x_range.end + (5 + box_w_px / 2) / PX], y=[last_price], width=box_w_px, height=11,
        width_units="screen", height_units="screen", fill_color="black", line_color=None,
        level="overlay")
p1.text(x=[x_range.end], y=[last_price], text=[f"{last_price:.5f}"], x_offset=7,
        text_align="left", text_baseline="middle", text_font=value(FONT),
        text_font_size="9px", text_color="white", level="overlay")

# ---------------- MACD panel ----------------
p2 = figure(frame_width=FW, frame_height=308, x_range=x_range,
            y_range=Range1d(macd_range[0], macd_range[1]),
            x_axis_location=None, y_axis_location="right", toolbar_location=None,
            output_backend="svg", min_border_left=4, min_border_top=2, min_border_bottom=0,
            min_border_right=0, background_fill_color="white", border_fill_color="white")
p2.outline_line_color = "black"
p2.outline_line_width = 1
p2.grid.visible = False

# the extreme labels sit just inside the panel, as in the terminal (about 5 px inward)
px_per_unit = 308 / (macd_range[1] - macd_range[0])
macd_tick_pos = [macd_range[1] - 5 / px_per_unit, 0.0, macd_range[0] + 4 / px_per_unit]
ax2 = p2.yaxis[0]
ax2.ticker = FixedTicker(ticks=macd_tick_pos)
ax2.major_label_overrides = {t: s for t, s in zip(macd_tick_pos, macd_tick_labels)}
ax2.major_tick_out = 3
ax2.major_tick_in = 0
ax2.minor_tick_line_color = None
ax2.axis_line_color = "black"
ax2.major_label_standoff = 2
ax2.major_label_text_font = FONT
ax2.major_label_text_font_size = "9px"
ax2.major_label_text_color = "black"

for d in day_starts:
    p2.add_layout(Span(location=d, dimension="height", line_color="black", line_width=1, line_dash="3 3"))

p2.vbar(x=bars, top=macd_main, bottom=0, width=1.1, fill_color="black", line_color=None)
p2.line(bars, macd_signal, line_color="red", line_width=2, line_join="round")

p2.add_layout(Label(x=x_range.start, y=macd_range[1], x_offset=6, y_offset=-8, text=macd_text,
                    text_align="left", text_baseline="middle", text_font=FONT,
                    text_font_size="9px", text_color="black"))

# ---------------- time axis strip ----------------
p3 = figure(frame_width=FW, frame_height=17, x_range=x_range, y_range=Range1d(0, 17),
            x_axis_location=None, y_axis_location=None, toolbar_location=None,
            output_backend="svg", min_border=0, min_border_left=4,
            background_fill_color="white", border_fill_color="white")
p3.outline_line_color = None
p3.grid.visible = False
p3.segment(x0=time_ticks, x1=time_ticks, y0=17, y1=13, line_color="black", line_width=1)
p3.text(x=time_ticks, y=8, text=time_labels, x_offset=1, text_align="left",
        text_baseline="middle", text_font=value(FONT), text_font_size="9px", text_color="black")

layout = column(p1, p2, p3, spacing=0)
open("out.html", "w").write(file_html(layout, INLINE))
